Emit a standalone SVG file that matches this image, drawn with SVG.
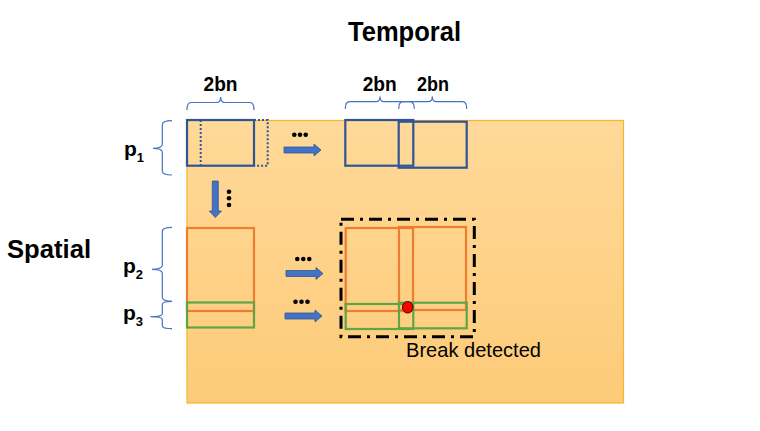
<svg xmlns="http://www.w3.org/2000/svg" width="760" height="431" viewBox="0 0 760 431">
<defs>
<linearGradient id="bg" x1="0" y1="0" x2="0" y2="1">
<stop offset="0" stop-color="#FFD999"/>
<stop offset="1" stop-color="#FDCB78"/>
</linearGradient>
<style>
.lbl{font-family:"Liberation Sans",Arial,sans-serif;font-weight:bold;fill:#000}
.brace{fill:none;stroke:#4472C4;stroke-width:1.2}
.blue{fill:none;stroke:#2F5597;stroke-width:2.2}
.org{fill:none;stroke:#ED7D31;stroke-width:2.2}
.grn{fill:none;stroke:#5FA545;stroke-width:2.2}
.arr{fill:#4472C4;stroke:#2F5597;stroke-width:0.8}
.dot{fill:#000}
</style>
</defs>
<rect width="760" height="431" fill="#fff"/>
<rect id="area" x="187" y="120.5" width="436.5" height="282.5" fill="url(#bg)" stroke="#F6B52E" stroke-width="1.2"/>

<text class="lbl" x="404.5" y="41" font-size="28" text-anchor="middle" textLength="113" lengthAdjust="spacingAndGlyphs">Temporal</text>
<text class="lbl" x="7" y="258" font-size="26" textLength="84" lengthAdjust="spacingAndGlyphs">Spatial</text>

<g id="braces">
<path class="brace" d="M187,110 Q187,102.5 191,102.5 L216.7,102.5 Q220.7,102.5 220.7,97 Q220.7,102.5 224.7,102.5 L250,102.5 Q254,102.5 254,110"/>
<path class="brace" d="M345.3,109 Q345.3,101.7 349.3,101.7 L376,101.7 Q380,101.7 380,96.5 Q380,101.7 384,101.7 L410.3,101.7 Q414.3,101.7 414.3,109"/>
<path class="brace" d="M398.7,109 Q398.7,101.7 402.7,101.7 L428.3,101.7 Q432.3,101.7 432.3,96.5 Q432.3,101.7 436.3,101.7 L462.7,101.7 Q466.7,101.7 466.7,109"/>
<path class="brace" d="M172,120.7 Q162.3,120.7 162.3,124.7 L162.3,144.3 Q162.3,148.3 153,148.3 Q162.3,148.3 162.3,152.3 L162.3,171 Q162.3,175 172,175"/>
<path class="brace" d="M172,227.3 Q162.3,227.3 162.3,231.3 L162.3,265.3 Q162.3,269.3 152,269.3 Q162.3,269.3 162.3,273.3 L162.3,297.3 Q162.3,301.3 172,301.3"/>
<path class="brace" d="M172,301.3 Q162.3,301.3 162.3,304.3 L162.3,313.7 Q162.3,316.7 150.5,316.7 Q162.3,316.7 162.3,319.7 L162.3,325.7 Q162.3,328.7 172,328.7"/>
</g>

<g id="labels">
<text class="lbl" x="220.5" y="90.5" font-size="20" text-anchor="middle" textLength="34" lengthAdjust="spacingAndGlyphs">2bn</text>
<text class="lbl" x="379.7" y="90.5" font-size="20" text-anchor="middle" textLength="34" lengthAdjust="spacingAndGlyphs">2bn</text>
<text class="lbl" x="433" y="90.5" font-size="20" text-anchor="middle" textLength="32" lengthAdjust="spacingAndGlyphs">2bn</text>
<text class="lbl" x="124" y="156" font-size="21">p<tspan font-size="13" dy="5.5">1</tspan></text>
<text class="lbl" x="123" y="273" font-size="21">p<tspan font-size="13" dy="5.5">2</tspan></text>
<text class="lbl" x="123" y="320" font-size="21">p<tspan font-size="13" dy="5.5">3</tspan></text>
</g>

<g id="p1-window">
<rect class="blue" x="187" y="120" width="67" height="45.7"/>
<line x1="200.7" y1="120" x2="200.7" y2="165.7" stroke="#2F5597" stroke-width="2" stroke-dasharray="2 2"/>
<polyline points="254,120 267.7,120 267.7,165.7 254,165.7" fill="none" stroke="#2F5597" stroke-width="2" stroke-dasharray="2 2"/>
</g>

<g id="p1-shifted">
<rect class="blue" x="345.3" y="120" width="68" height="45.7"/>
<rect class="blue" x="398.7" y="121.7" width="68" height="46"/>
</g>

<g id="p2-p3-window">
<rect class="org" x="187" y="228" width="67" height="83"/>
<rect class="grn" x="187" y="302.5" width="67" height="25"/>
</g>

<g id="break-window">
<rect class="org" x="345.7" y="228" width="67.3" height="83"/>
<rect class="org" x="399" y="227" width="67" height="83"/>
<rect class="grn" x="345.7" y="304" width="67.6" height="25"/>
<rect class="grn" x="399" y="302.7" width="67.7" height="25.6"/>
<rect x="341" y="219.3" width="133.3" height="117.4" fill="none" stroke="#000" stroke-width="3" stroke-dasharray="13 6 3 6"/>
<ellipse cx="407.7" cy="307.3" rx="5.3" ry="5.8" fill="#FF0000" stroke="#000" stroke-width="0.8"/>
<text x="406" y="357" font-family="'Liberation Sans',Arial,sans-serif" font-size="20.5" fill="#000" textLength="135" lengthAdjust="spacingAndGlyphs">Break detected</text>
</g>

<g id="connectors">
<polygon class="arr" points="284,147 314,147 314,144 321,150 314,156 314,153 284,153"/>
<polygon class="arr" points="286,270.5 316,270.5 316,267.5 323,273.5 316,279.5 316,276.5 286,276.5"/>
<polygon class="arr" points="285,313 315,313 315,310 322,316 315,322 315,319 285,319"/>
<polygon class="arr" points="212.3,181 218.3,181 218.3,211 221.5,211 215.3,217.5 209.3,211 212.3,211"/>
<circle class="dot" cx="294.3" cy="134.7" r="2.3"/>
<circle class="dot" cx="300" cy="134.7" r="2.3"/>
<circle class="dot" cx="305.7" cy="134.7" r="2.3"/>
<circle class="dot" cx="297.3" cy="259" r="2.3"/>
<circle class="dot" cx="303.3" cy="259" r="2.3"/>
<circle class="dot" cx="309.3" cy="259" r="2.3"/>
<circle class="dot" cx="295.5" cy="301.7" r="2.3"/>
<circle class="dot" cx="301.5" cy="301.7" r="2.3"/>
<circle class="dot" cx="307.5" cy="301.7" r="2.3"/>
<circle class="dot" cx="229" cy="191.7" r="2.3"/>
<circle class="dot" cx="229" cy="198.3" r="2.3"/>
<circle class="dot" cx="229" cy="205" r="2.3"/>
</g>
</svg>
